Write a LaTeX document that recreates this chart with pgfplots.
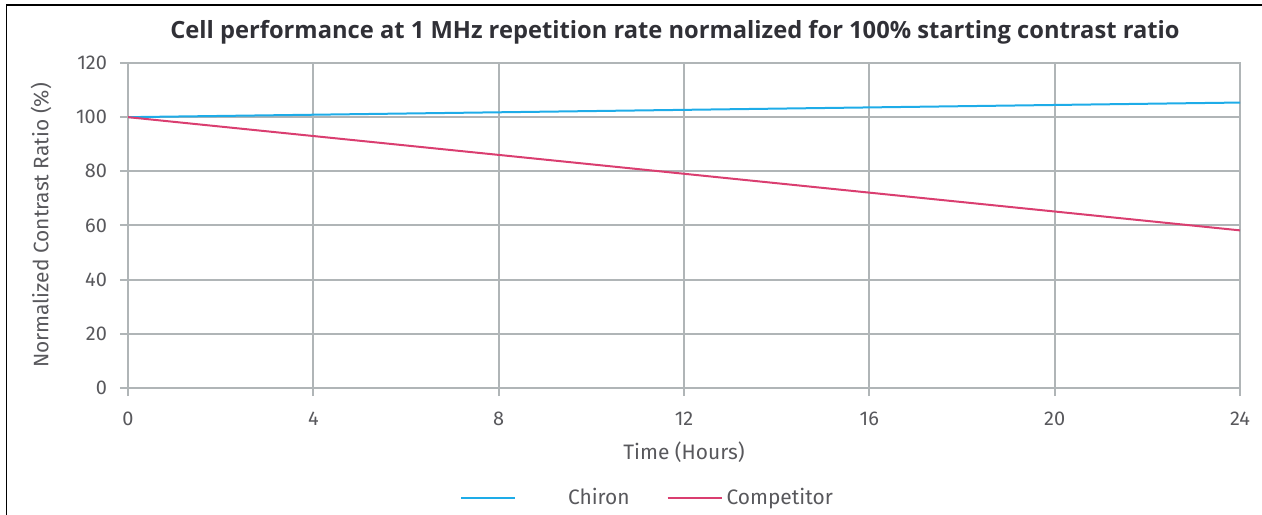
\documentclass[border=0pt]{standalone}
\usepackage{fontspec}
\setmainfont{Fira Sans}
\newfontfamily\titlefont{Open Sans}
\usepackage{pgfplots}
\pgfplotsset{compat=1.18}
\definecolor{chiron}{RGB}{30,172,232}
\definecolor{rival}{RGB}{218,62,112}
\definecolor{gridc}{RGB}{176,181,183}
\definecolor{txt}{RGB}{88,88,92}
\definecolor{ttl}{RGB}{48,48,54}

\begin{document}
\begin{tikzpicture}
\useasboundingbox (0,0) rectangle (631bp,257.5bp);
% partial frame (left and top edges only)
\draw[black, line width=0.8bp] (3.2bp,0) -- (3.2bp,255bp) -- (631bp,255bp);

\begin{axis}[
    at={(64bp,63.5bp)}, anchor=south west,
    scale only axis,
    width=556bp, height=162.5bp,
    xmin=0, xmax=24, ymin=0, ymax=120,
    xtick={0,4,...,24}, ytick={0,20,...,120},
    axis line style={draw=gridc, line width=1bp},
    grid=major,
    grid style={draw=gridc, line width=1bp},
    major tick length=4bp,
    tick style={draw=gridc, line width=1bp},
    tick align=outside,
    xtick pos=bottom, ytick pos=left,
    /pgf/number format/assume math mode=true,
    ticklabel style={font=\fontsize{10}{12}\selectfont, text=txt},
    xticklabel style={yshift=-4.5bp},
    yticklabel style={xshift=-3bp},
    label style={font=\fontsize{10.5}{12}\selectfont, text=txt},
    xlabel={Time (Hours)},
    ylabel={Normalized Contrast Ratio (\%)},
    xlabel style={yshift=-1bp},
    ylabel style={yshift=5.5bp},
    title={Cell performance at 1 MHz repetition rate normalized for 100\% starting contrast ratio},
    title style={font=\titlefont\fontsize{11.9}{14}\selectfont\bfseries, text=ttl, xshift=-4.5bp},
    legend columns=2,
    legend style={at={(0.468,-0.337)}, anchor=center, draw=none, fill=none,
        font=\fontsize{10.5}{12}\selectfont, text=txt,
        /tikz/every even column/.append style={column sep=16.5bp}},
    legend image code/.code={\draw[#1] (0bp,0bp) -- (27bp,0bp);},
]
\addplot[chiron, line width=1bp] coordinates {(0,100) (24,105.4)};
\addlegendentry{\hspace{24bp}Chiron}
\addplot[rival, line width=1bp] coordinates {(0,100) (24,58.2)};
\addlegendentry{Competitor}
\end{axis}
\end{tikzpicture}
\end{document}
